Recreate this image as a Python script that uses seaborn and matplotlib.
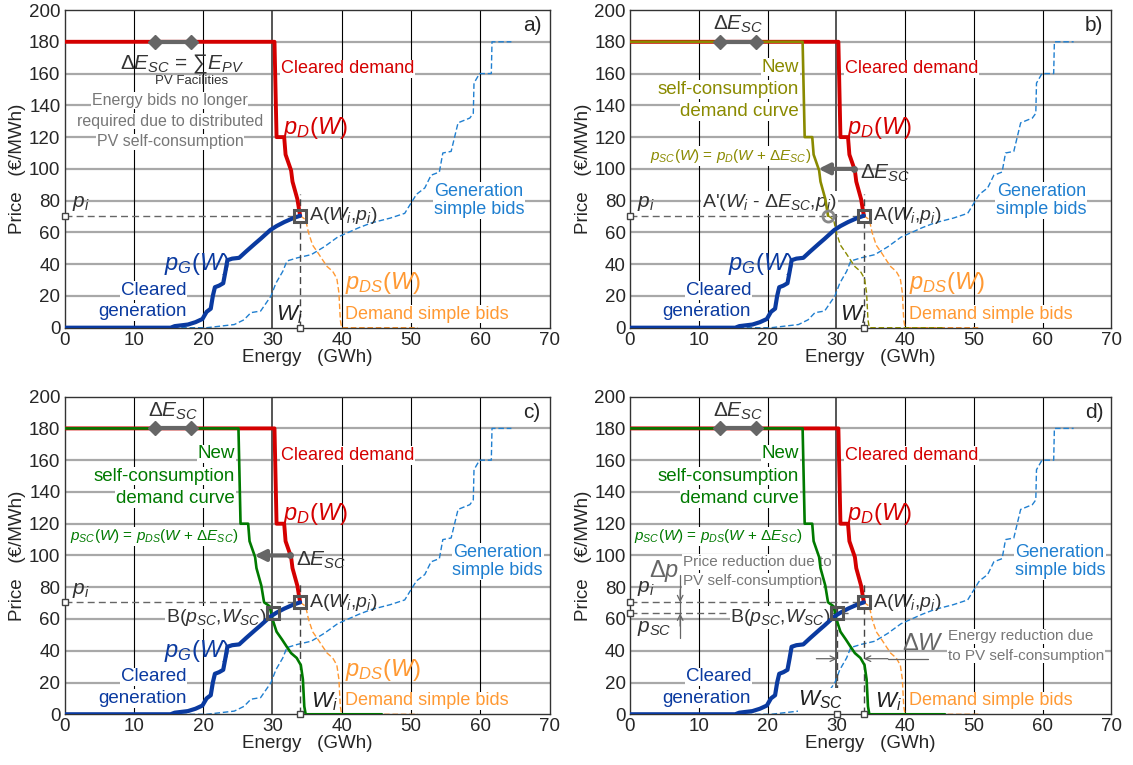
import numpy as np
import pandas as pd
import matplotlib
matplotlib.use("Agg")
import matplotlib.pyplot as plt
import seaborn as sns

# curves (energy in GWh, price in EUR/MWh)
dem_w = [0, 30.3, 30.6, 31.7, 31.9, 32.7, 32.9, 33.6, 33.9, 34.0]
dem_p = [180, 180, 120, 120, 109, 99, 92, 81, 73, 70.5]

ds_w = [34.0, 34.8, 35.2, 35.8, 36.6, 37.2, 37.9, 38.7, 39.3, 39.6, 39.8, 40.0, 51.0]
ds_p = [70.5, 68, 60, 52, 47, 43, 38.5, 35.5, 31, 22, 5, 0, 0]

cg_w = [0, 15.3, 15.9, 17.8, 18.9, 19.9, 20.5, 21.1, 21.4, 21.7, 22.3, 22.9, 23.2, 23.5,
        24.2, 25.2, 26.2, 27.5, 28.3, 29.7, 30.6, 31.7, 33.0, 34.0]
cg_p = [0, 0, 1, 2, 3.5, 5.5, 10, 12, 20, 25.5, 26.5, 28, 35, 42.5,
        43.5, 44, 48, 53, 56, 61.5, 64, 66.5, 69, 70.5]

gs_w = [0, 20.5, 24.5, 25.9, 26.9, 28.3, 29.8, 30.5, 31.5, 32.1, 33.6, 35.6, 37.5, 39.4,
        42.5, 44.3, 47.0, 49.1, 49.8, 50.8, 52.0, 52.9, 54.1, 54.6, 55.8, 56.8, 58.5,
        59.0, 59.1, 59.9, 61.6, 61.7, 64.5]
gs_p = [0, 0, 2, 5, 9.5, 10.5, 20, 28, 35.5, 42, 44, 46, 51, 57,
        63, 66, 69, 72, 77, 84, 88, 96, 98, 110, 111, 129, 132,
        135, 154, 160, 160, 180, 180]

delta_esc = 5.2          # shift of the self-consumption curve
w_i, p_i = 34.0, 70.5     # point A
w_sc, p_sc = 30.1, 63.5   # point B
panel_tags = ["a)", "b)", "c)", "d)"]

RED = "#d40000"
BLUE = "#0a3aa0"
LBLUE = "#1f7fd0"
ORANGE = "#ff9933"
OLIVE = "#8a8a00"
GREEN = "#007a00"
GRAY = "#666666"
DGRAY = "#444444"

sns.set_theme(style="white")
plt.rcParams["font.family"] = ["Liberation Sans", "DejaVu Sans"]
plt.rcParams["mathtext.fontset"] = "custom"
plt.rcParams["mathtext.rm"] = "Liberation Sans"
plt.rcParams["mathtext.it"] = "Liberation Sans:italic"

fig = plt.figure(figsize=(11.33, 7.65), dpi=100)
positions = [[0.057, 0.5716, 0.428, 0.4153], [0.556, 0.5716, 0.425, 0.4153],
             [0.057, 0.0663, 0.428, 0.4152], [0.556, 0.0663, 0.425, 0.4152]]
axes = [fig.add_axes(p) for p in positions]

WB = dict(facecolor="white", edgecolor="none", pad=0.5)


def line(ax, w, p, color, lw, ls="-", z=3):
    df = pd.DataFrame({"w": w, "p": p})
    sns.lineplot(data=df, x="w", y="p", sort=False, estimator=None, ax=ax,
                 color=color, lw=lw, linestyle=ls, zorder=z)


def base(ax, tag):
    ax.set_xlim(0, 70)
    ax.set_ylim(0, 200)
    ax.set_xticks(range(0, 71, 10))
    ax.set_yticks(range(0, 201, 20))
    for y in range(20, 200, 20):
        ax.axhline(y, color="#a8a8a8", lw=1.6, zorder=0)
    for x in range(10, 70, 10):
        ax.axvline(x, color="#555555" if x == 30 else "black", lw=1.4 if x == 30 else 0.8, zorder=0)
    for s in ax.spines.values():
        s.set_color("#333333")
        s.set_linewidth(1.0)
    ax.tick_params(labelsize=13.5, length=0, pad=3)
    ax.set_xlabel("Energy   (GWh)", fontsize=13.5, labelpad=0)
    ax.set_ylabel("Price   (€/MWh)", fontsize=13.5, labelpad=2)
    ax.text(67.5, 190, tag, fontsize=15, ha="center", va="center", bbox=WB)


def point_a(ax, pi_y=78):
    ax.plot([0, w_i], [p_i, p_i], ls=(0, (5, 3)), color=GRAY, lw=1.0, zorder=2)
    ax.plot([w_i, w_i], [0, 84], ls=(0, (5, 3)), color=DGRAY, lw=1.0, zorder=2)
    ax.plot([w_i], [p_i], marker="s", ms=9, mfc="none", mec="#555555", mew=2.2, zorder=6)
    ax.plot([0, w_i], [p_i, 0], ls="none", marker="s", ms=5, mfc="white", mec=DGRAY, mew=1, zorder=7, clip_on=False)
    ax.text(w_i + 1.3, p_i, "A($W_i$,$p_i$)", fontsize=14, color="#333333", va="center")
    ax.text(1.0, pi_y, "$p_i$", fontsize=15, color="#333333", va="center")


def common(ax, gsb_y, show_pg=True, show_pds=True, wi_x=30.5):
    line(ax, gs_w, gs_p, LBLUE, 1.0, ls=(0, (4, 2)), z=2)
    line(ax, ds_w, ds_p, ORANGE, 1.0, ls=(0, (4, 2)), z=2)
    line(ax, dem_w, dem_p, RED, 2.8, z=4)
    line(ax, cg_w, cg_p, BLUE, 3.0, z=5)
    ax.text(31.2, 163, "Cleared demand", fontsize=13, color=RED, va="center", bbox=WB)
    ax.text(31.6, 126, "$p_D(W)$", fontsize=17, color=RED, va="center")
    if show_pg:
        ax.text(14.3, 40, "$p_G(W)$", fontsize=17, color=BLUE, va="center")
    ax.text(17.6, 23.5, "Cleared", fontsize=13.5, color=BLUE, ha="right", va="center", bbox=WB)
    ax.text(17.6, 10, "generation", fontsize=13.5, color=BLUE, ha="right", va="center", bbox=WB)
    if show_pds:
        ax.text(40.5, 28, "$p_{DS}(W)$", fontsize=17, color=ORANGE, va="center")
    ax.text(40.5, 8.5, "Demand simple bids", fontsize=13, color=ORANGE, va="center", bbox=WB)
    ax.text(62.5 if gsb_y > 90 else 59.8, gsb_y, "Generation\nsimple bids", fontsize=13, color=LBLUE,
            ha="center", va="center", linespacing=1.1, bbox=WB)
    ax.text(wi_x, 8, "$W_i$", fontsize=16, color="#222222", va="center")


def diamonds(ax, label=True):
    ax.plot([13.1, 18.3], [180, 180], color=GRAY, lw=3, marker="D", ms=7, zorder=8)
    if label:
        ax.text(15.7, 191, r"$\Delta E_{SC}$", fontsize=15, color="#333333", ha="center", va="center")


def shifted_arrow(ax):
    ax.annotate("", xy=(27.4, 100), xytext=(32.6, 100),
                arrowprops=dict(arrowstyle="-|>", lw=3, color=GRAY, mutation_scale=16, shrinkA=0, shrinkB=0),
                zorder=8)
    ax.plot([32.6], [100], marker="o", ms=4, color=GRAY, zorder=8)
    ax.text(33.4, 97, r"$\Delta E_{SC}$", fontsize=15, color="#333333", va="center")


def sc_text(ax, color, formula, fx, fy):
    for y, s in zip([164, 150, 136], ["New", "self-consumption", "demand curve"]):
        ax.text(24.6, y, s, fontsize=13.5, color=color, ha="right", va="center", bbox=WB)
    ax.text(fx, fy, formula, fontsize=11, color=color, ha="center", va="center", bbox=WB)


sc_w = [w - delta_esc for w in dem_w]
sc_ds_w = [w - delta_esc for w in ds_w]

# a)
ax = axes[0]
base(ax, panel_tags[0])
common(ax, 80)
point_a(ax)
diamonds(ax, label=False)
ax.text(17.0, 166, r"$\Delta E_{SC}$ = $\sum E_{PV}$", fontsize=15, color="#333333", ha="center", va="center")
ax.text(18.4, 155.5, "PV Facilities", fontsize=9.5, color="#333333", ha="center", va="center")
for y, s in zip([143, 130, 117], ["Energy bids no longer", "required due to distributed", "PV self-consumption"]):
    ax.text(15.2, y, s, fontsize=11.5, color="#777777", ha="center", va="center", bbox=WB)

# b)
ax = axes[1]
base(ax, panel_tags[1])
common(ax, 80)
line(ax, sc_w, dem_p, OLIVE, 1.9, z=4)
line(ax, sc_ds_w, ds_p, OLIVE, 1.0, ls=(0, (4, 2)), z=3)
point_a(ax)
diamonds(ax)
shifted_arrow(ax)
sc_text(ax, OLIVE, r"$p_{SC}(W)$ = $p_D(W$ + $\Delta E_{SC})$", 14.6, 108)
ax.plot([w_i - delta_esc], [p_i], marker="o", ms=8, mfc="none", mec="#888888", mew=2, zorder=7)
ax.text(10.5, 79, r"A'($W_i$ - $\Delta E_{SC}$,$p_i$)", fontsize=14, color="#333333", va="center", bbox=WB)

# c)
ax = axes[2]
base(ax, panel_tags[2])
common(ax, 96, wi_x=35.6)
line(ax, sc_w + sc_ds_w[1:], dem_p + ds_p[1:], GREEN, 1.9, z=4)
point_a(ax)
diamonds(ax)
shifted_arrow(ax)
sc_text(ax, GREEN, r"$p_{SC}(W)$ = $p_{DS}(W$ + $\Delta E_{SC})$", 13.0, 112)
ax.plot([w_sc], [p_sc], marker="s", ms=9, mfc="none", mec="#555555", mew=2.2, zorder=7)
ax.text(14.6, 61, r"B($p_{SC}$,$W_{SC}$)", fontsize=14, color="#333333", va="center", bbox=WB)

# d)
ax = axes[3]
base(ax, panel_tags[3])
common(ax, 96, show_pg=False, show_pds=False, wi_x=35.6)
line(ax, sc_w + sc_ds_w[1:], dem_p + ds_p[1:], GREEN, 1.9, z=4)
point_a(ax, pi_y=79)
diamonds(ax)
sc_text(ax, GREEN, r"$p_{SC}(W)$ = $p_{DS}(W$ + $\Delta E_{SC})$", 12.8, 112)
ax.plot([0, w_sc + 2], [p_sc, p_sc], ls=(0, (5, 3)), color=GRAY, lw=1.0, zorder=2)
ax.plot([w_sc, w_sc], [0, p_sc + 6], ls=(0, (5, 3)), color=DGRAY, lw=1.0, zorder=2)
ax.plot([w_sc], [p_sc], marker="s", ms=9, mfc="none", mec="#555555", mew=2.2, zorder=7)
ax.plot([0, w_sc], [p_sc, 0], ls="none", marker="s", ms=5, mfc="white", mec=DGRAY, mew=1, zorder=7, clip_on=False)
ax.text(14.6, 61, r"B($p_{SC}$,$W_{SC}$)", fontsize=14, color="#333333", va="center", bbox=WB)
ax.text(1.0, 54, "$p_{SC}$", fontsize=15, color="#333333", va="center")
ax.text(24.5, 9, "$W_{SC}$", fontsize=16, color="#222222", va="center", bbox=WB)
# price reduction marks
ax.plot([7.3, 7.3], [48, 88], color=GRAY, lw=0.9, zorder=3)
ax.annotate("", xy=(7.3, p_i), xytext=(7.3, p_i + 8),
            arrowprops=dict(arrowstyle="->", lw=0.9, color=GRAY, mutation_scale=10, shrinkA=0, shrinkB=0))
ax.annotate("", xy=(7.3, p_sc), xytext=(7.3, p_sc - 8),
            arrowprops=dict(arrowstyle="->", lw=0.9, color=GRAY, mutation_scale=10, shrinkA=0, shrinkB=0))
ax.text(2.7, 90, r"$\Delta p$", fontsize=17, color=GRAY, va="center")
ax.text(7.7, 96, "Price reduction due to", fontsize=11, color="#777777", va="center", bbox=WB)
ax.text(7.7, 84, "PV self-consumption", fontsize=11, color="#777777", va="center", bbox=WB)
# energy reduction marks
ax.annotate("", xy=(w_sc, 35), xytext=(w_sc - 3, 35),
            arrowprops=dict(arrowstyle="->", lw=0.9, color=GRAY, mutation_scale=10, shrinkA=0, shrinkB=0))
ax.annotate("", xy=(w_i, 35), xytext=(w_i + 3.5, 35),
            arrowprops=dict(arrowstyle="->", lw=0.9, color=GRAY, mutation_scale=10, shrinkA=0, shrinkB=0))
ax.plot([w_i + 3.5, 43.3], [35, 35], color=GRAY, lw=0.9, zorder=3)
ax.text(39.6, 44, r"$\Delta W$", fontsize=17, color=GRAY, va="center")
ax.text(46.2, 49, "Energy reduction due", fontsize=11, color="#777777", va="center", bbox=WB)
ax.text(46.2, 37, "to PV self-consumption", fontsize=11, color="#777777", va="center", bbox=WB)

fig.savefig("out.png", dpi=100)
